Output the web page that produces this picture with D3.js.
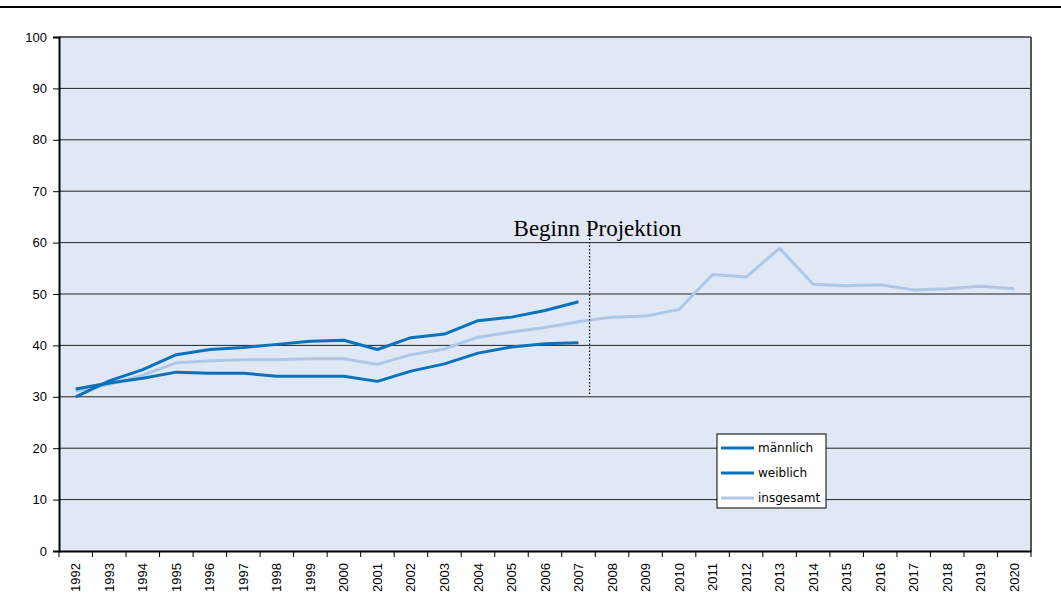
<!DOCTYPE html>
<html>
<head>
<meta charset="utf-8">
<script src="https://cdn.jsdelivr.net/npm/d3@7"></script>
<style>
  body { margin: 0; background: #fff; }
  svg { display: block; }
</style>
</head>
<body>
<div id="chart"></div>
<script>
// ---------------- data ----------------
const years = d3.range(1992, 2021).map(String);
const yTicks = [0, 10, 20, 30, 40, 50, 60, 70, 80, 90, 100];

const maennlich = [31.5, 32.7, 33.6, 34.8, 34.6, 34.6, 34.0, 34.0, 34.0, 33.0, 35.0, 36.4, 38.5, 39.7, 40.3, 40.5];
const weiblich = [30.0, 33.1, 35.3, 38.2, 39.2, 39.6, 40.2, 40.8, 41.0, 39.2, 41.5, 42.2, 44.8, 45.5, 46.8, 48.5];
const insgesamt = [31.1, 32.4, 34.2, 36.6, 37.0, 37.2, 37.2, 37.4, 37.4, 36.3, 38.2, 39.3, 41.6, 42.6, 43.5, 44.6,
  45.5, 45.7, 47.0, 53.8, 53.3, 58.9, 51.9, 51.6, 51.8, 50.8, 51.0, 51.5, 51.0];

const seriesNames = ["männlich", "weiblich", "insgesamt"];
const seriesValues = [maennlich, weiblich, insgesamt];
const seriesColors = ["#0A72BA", "#0A72BA", "#AFC7E7"];

const projLabel = "Beginn Projektion";

// ---------------- setup ----------------
const W = 1061, H = 605;
const margin = { top: 37, right: 30, bottom: 54, left: 59 };
const width = W - margin.left - margin.right;
const height = H - margin.top - margin.bottom;
const axisFont = "Arial, 'Liberation Sans', sans-serif";

const svg = d3.select("#chart").append("svg")
  .attr("width", W).attr("height", H);

// top rule
svg.append("line")
  .attr("x1", 0).attr("x2", W).attr("y1", 7).attr("y2", 7)
  .attr("stroke", "#000").attr("stroke-width", 2);

const g = svg.append("g").attr("transform", `translate(${margin.left},${margin.top})`);

const x = d3.scaleBand().domain(years).range([0, width]).padding(0);
const y = d3.scaleLinear().domain([0, 100]).range([height, 0]);

// plot background
g.append("rect")
  .attr("width", width).attr("height", height)
  .attr("fill", "#E0E7F5");

// gridlines
g.selectAll(".grid").data(yTicks.filter(d => d > 0 && d < 100))
  .enter().append("line")
  .attr("x1", 0).attr("x2", width)
  .attr("y1", d => y(d)).attr("y2", d => y(d))
  .attr("stroke", "#222").attr("stroke-width", 1);

// frame
g.append("line").attr("x1", 0).attr("x2", width).attr("y1", 0).attr("y2", 0)
  .attr("stroke", "#333").attr("stroke-width", 1.5);
g.append("line").attr("x1", width).attr("x2", width).attr("y1", 0).attr("y2", height)
  .attr("stroke", "#555").attr("stroke-width", 2);

// ---------------- axes ----------------
const yAxis = g.append("g")
  .call(d3.axisLeft(y).tickValues(yTicks).tickSize(6).tickPadding(6))
  .attr("font-family", axisFont).attr("font-size", 13);
yAxis.select(".domain").attr("stroke", "#000").attr("stroke-width", 2);
yAxis.selectAll(".tick line").attr("stroke", "#000");
yAxis.selectAll(".tick text").attr("fill", "#000");

const xAxis = g.append("g")
  .attr("transform", `translate(0,${height})`)
  .call(d3.axisBottom(x).tickSize(0).tickSizeOuter(0))
  .attr("font-family", axisFont).attr("font-size", 13);
xAxis.select(".domain").attr("stroke", "#000").attr("stroke-width", 2);
xAxis.selectAll(".tick text")
  .attr("fill", "#000")
  .attr("transform", "rotate(-90)")
  .attr("text-anchor", "end")
  .attr("x", -12).attr("y", 0).attr("dy", "0.35em");

// tick marks at category boundaries
g.selectAll(".xtick").data(years.concat(["end"]))
  .enter().append("line")
  .attr("x1", (d, i) => i * x.step()).attr("x2", (d, i) => i * x.step())
  .attr("y1", height).attr("y2", height + 6)
  .attr("stroke", "#000");

// ---------------- lines ----------------
const line = d3.line()
  .x((d, i) => x(years[i]) + x.bandwidth() / 2)
  .y(d => y(d));

// draw insgesamt first so dark lines sit on top
[2, 0, 1].forEach(k => {
  g.append("path")
    .datum(seriesValues[k])
    .attr("fill", "none")
    .attr("stroke", seriesColors[k])
    .attr("stroke-width", 3)
    .attr("stroke-linejoin", "round")
    .attr("d", line);
});

// ---------------- projection marker ----------------
const projX = x("2007") + x.bandwidth() / 2 + x.step() * 0.33;
g.append("line")
  .attr("x1", projX).attr("x2", projX)
  .attr("y1", y(63.5)).attr("y2", y(30.5))
  .attr("stroke", "#000").attr("stroke-width", 1.2)
  .attr("stroke-dasharray", "1.5,2");
g.append("text")
  .attr("x", projX + 8).attr("y", y(61.5) + 1)
  .attr("text-anchor", "middle")
  .attr("font-family", "'Liberation Serif', 'Times New Roman', serif")
  .attr("font-size", 23)
  .text(projLabel);

// ---------------- legend ----------------
const lg = g.append("g").attr("transform", `translate(${717 - margin.left},${434 - margin.top})`);
lg.append("rect")
  .attr("width", 109).attr("height", 74)
  .attr("fill", "#fff").attr("stroke", "#000").attr("stroke-width", 1);
seriesNames.forEach((name, i) => {
  const yy = 14 + i * 25;
  lg.append("line")
    .attr("x1", 4).attr("x2", 37).attr("y1", yy).attr("y2", yy)
    .attr("stroke", seriesColors[i]).attr("stroke-width", 3);
  lg.append("text")
    .attr("x", 41).attr("y", yy).attr("dy", "0.35em")
    .attr("font-family", "'DejaVu Sans', Verdana, sans-serif")
    .attr("font-size", 12)
    .text(name);
});
</script>
</body>
</html>
